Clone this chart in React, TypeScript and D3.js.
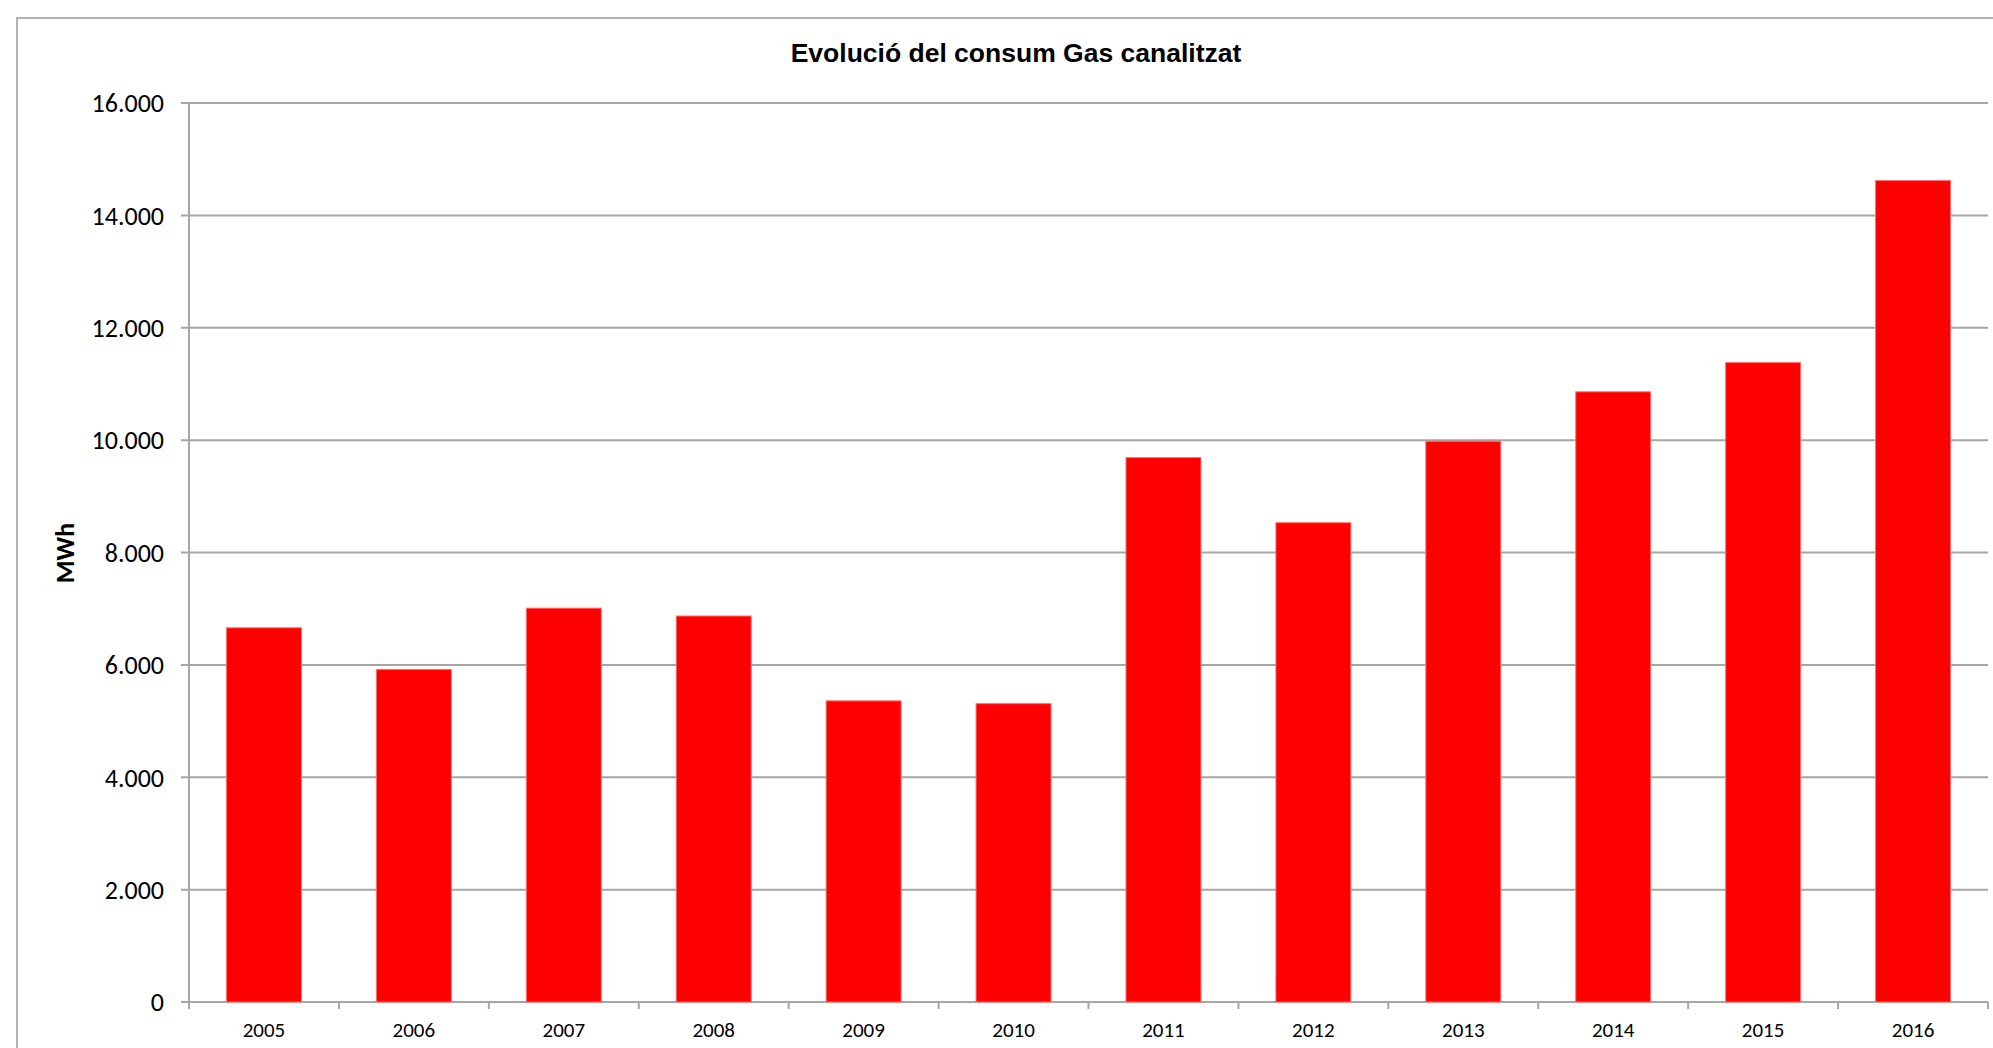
import React from "react";
import * as d3 from "d3";

const years = ["2005", "2006", "2007", "2008", "2009", "2010", "2011", "2012", "2013", "2014", "2015", "2016"];
const consumption = [6660, 5920, 7010, 6870, 5360, 5310, 9690, 8530, 9980, 10860, 11380, 14620];
const yTicks = [0, 2000, 4000, 6000, 8000, 10000, 12000, 14000, 16000];
const title = "Evolució del consum Gas canalitzat";
const yLabel = "MWh";

const W = 1993;
const H = 1048;
const left = 189;
const right = 1988;
const top = 103;
const bottom = 1002;

const fmt = (v: number) => d3.format(",")(v).replace(/,/g, ".");

export default function App() {
  const x = d3.scaleBand<string>().domain(years).range([left, right]).paddingInner(0.5).paddingOuter(0.25);
  const y = d3.scaleLinear().domain([0, 16000]).range([bottom, top]);
  const boundaries = d3.range(years.length + 1).map((i) => left + i * ((right - left) / years.length));
  const grid = "#a6a6a6";
  return (
    <svg width={W} height={H} style={{ position: "absolute", left: 0, top: 0, background: "#fff" }}>
      <rect x={17} y={18} width={W} height={H} fill="#fff" stroke="#9a9a9a" strokeWidth={1.5} />
      <text x={1016} y={62} textAnchor="middle" fontFamily="'Liberation Sans', Arial, sans-serif" fontWeight="bold" fontSize={26.5} fill="#000">
        {title}
      </text>
      {yTicks.map((t) => (
        <g key={t}>
          <line x1={181} x2={right} y1={y(t)} y2={y(t)} stroke={grid} strokeWidth={2} />
          <text x={164} y={y(t)} dy="0.36em" textAnchor="end" fontFamily="Carlito, Lato, sans-serif" fontSize={26} fill="#000">
            {fmt(t)}
          </text>
        </g>
      ))}
      <line x1={left} x2={left} y1={top} y2={bottom} stroke={grid} strokeWidth={2} />
      {boundaries.map((b, i) => (
        <line key={i} x1={b} x2={b} y1={bottom} y2={bottom + 7} stroke={grid} strokeWidth={2} />
      ))}
      {years.map((yr, i) => (
        <rect
          key={yr}
          x={x(yr)}
          y={y(consumption[i])}
          width={x.bandwidth()}
          height={bottom - y(consumption[i])}
          fill="#ff0000"
          stroke="#ff7070"
          strokeWidth={1}
        />
      ))}
      {years.map((yr) => (
        <text key={yr} x={(x(yr) as number) + x.bandwidth() / 2} y={1037} textAnchor="middle" fontFamily="Carlito, Lato, sans-serif" fontSize={21} fill="#000">
          {yr}
        </text>
      ))}
      <text
        transform={`translate(65,553) rotate(-90)`}
        textAnchor="middle"
        dy="0.36em"
        fontFamily="Carlito, Lato, sans-serif"
        fontWeight="bold"
        fontSize={26}
        fill="#000"
      >
        {yLabel}
      </text>
    </svg>
  );
}
